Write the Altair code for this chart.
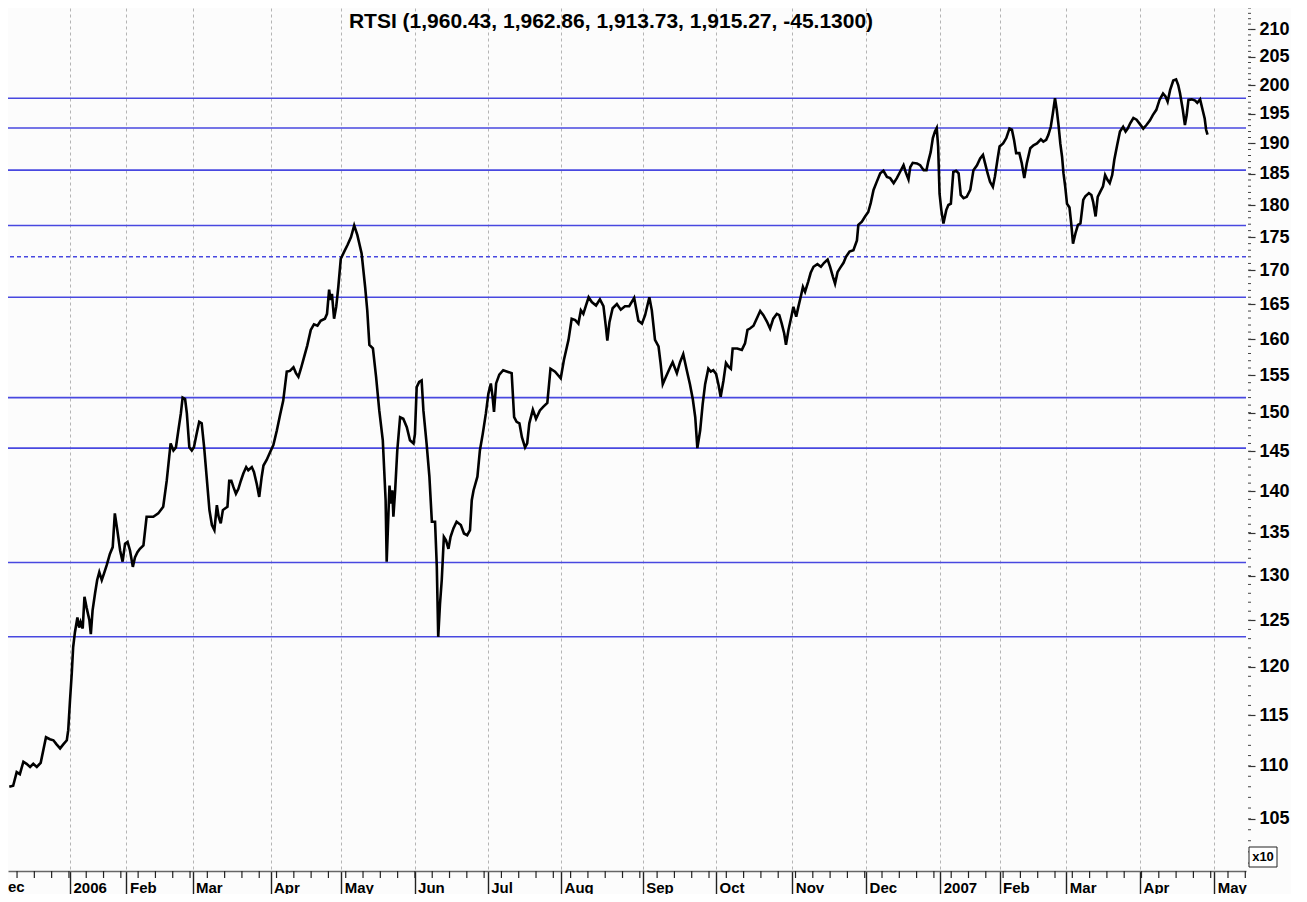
import json
import altair as alt
import numpy as np
import pandas as pd

TITLE = "RTSI (1,960.43, 1,962.86, 1,913.73, 1,915.27, -45.1300)"
FONT = "Liberation Sans, Arial, sans-serif"

# trading-session index (0 = first session of 2006) and RTSI close (x10)
day_a = [-17.2, -16.1, -15.1, -14.2, -13.2, -12.3, -11.3, -10.4, -9.4, -8.3, -6.8, -5.7, -4.7, -3.8, -2.8, -1.9,
         -0.9, -0.5, 0.0, 0.5, 0.9, 1.4, 2.1, 2.6, 3.0, 3.6, 4.1, 4.7, 5.5, 5.9, 6.4, 7.1, 7.7, 8.3, 9.0, 9.6,
         10.4, 11.3, 12.1, 12.7, 13.4, 14.2, 14.9, 15.6, 16.3, 17.0, 17.8, 18.4, 19.1, 19.8, 20.8, 21.7, 22.7,
         23.6, 25.0, 26.4, 27.4, 28.1, 28.5, 29.3, 30.0, 30.7, 31.4, 31.9, 32.6, 33.1, 33.8, 34.5, 35.1, 35.9,
         36.6, 37.3, 38.0, 38.7, 39.5, 40.2, 40.9, 41.6, 42.1, 42.7, 43.3, 43.9, 44.6, 45.1, 45.7, 46.3, 47.0,
         47.7, 48.4, 49.1, 49.9, 50.5]
close_a = [108.0, 108.1, 109.4, 109.2, 110.4, 110.2, 109.9, 110.2, 109.9, 110.3, 112.8, 112.6, 112.5, 112.1,
           111.7, 112.1, 112.5, 113.5, 116.5, 119.3, 122.1, 123.7, 125.3, 124.2, 124.8, 124.1, 127.6, 126.4,
           125.0, 123.5, 126.1, 128.0, 129.5, 130.4, 129.5, 130.2, 131.2, 132.5, 133.3, 137.3, 135.3, 132.9,
           131.6, 133.7, 133.9, 132.9, 131.0, 132.1, 132.7, 133.1, 133.5, 136.9, 136.9, 136.9, 137.3, 138.1,
           141.3, 144.3, 146.0, 145.1, 145.5, 147.7, 149.9, 152.0, 151.8, 149.9, 145.5, 145.1, 145.5, 147.3,
           148.8, 148.6, 145.5, 141.8, 137.7, 135.9, 135.3, 138.3, 136.9, 136.1, 137.7, 137.9, 138.1, 141.3,
           141.3, 140.5, 139.7, 140.3, 141.3, 142.2, 143.0, 142.6]

day_b = [51.5, 52.1, 52.9, 53.6, 54.3, 54.8, 55.7, 56.7, 57.6, 58.6, 59.5, 60.4, 61.4, 62.3, 63.3, 64.0, 64.7,
         65.4, 66.3, 67.2, 68.2, 69.1, 70.1, 71.0, 72.2, 72.8, 73.4, 73.8, 74.2, 74.8, 75.4, 76.0, 76.7, 77.6,
         78.6, 79.6, 80.5, 81.4, 82.6, 83.6, 84.2, 84.8, 85.8, 86.7, 87.6, 88.6, 89.0, 89.4, 89.7, 90.2, 90.5,
         90.9, 91.3, 91.6, 92.1, 92.7, 93.5, 94.4, 95.4, 96.3, 97.3, 97.7, 98.2, 98.9, 99.6, 100.1, 101.0,
         101.8, 102.5, 103.4, 103.9, 104.3, 104.8, 105.3, 105.9, 106.5, 107.2, 107.8, 108.6, 109.5, 110.7,
         111.6, 112.5, 113.3, 113.8, 114.3, 115.4, 116.1, 116.9, 117.8, 118.5, 119.2]
close_b = [143.0, 142.4, 140.9, 139.3, 141.8, 143.2, 143.9, 144.9, 145.8, 147.7, 149.7, 151.6, 155.5, 155.6,
           156.1, 155.3, 154.8, 155.9, 157.5, 159.1, 161.3, 162.1, 161.9, 162.6, 162.9, 163.6, 167.1, 165.6,
           166.5, 162.9, 164.6, 167.5, 171.7, 172.7, 173.8, 175.0, 176.8, 175.3, 172.5, 167.5, 164.1, 159.2,
           158.7, 154.8, 150.3, 146.4, 142.6, 138.9, 131.6, 137.3, 140.7, 138.5, 140.1, 136.9, 140.1, 145.1,
           149.4, 149.2, 148.1, 146.4, 146.0, 147.2, 153.4, 154.1, 154.3, 150.3, 146.0, 141.8, 136.3, 136.3,
           131.0, 123.2, 126.8, 129.5, 134.5, 134.1, 133.1, 134.5, 135.5, 136.3, 135.9, 134.9, 134.7, 135.3,
           138.9, 140.1, 141.8, 145.1, 147.2, 149.9, 152.5, 153.9]

day_c = [119.7, 120.1, 120.7, 121.6, 122.7, 123.9, 125.1, 125.8, 126.5, 127.3, 128.0, 128.9, 129.5, 130.1,
         131.1, 132.0, 133.1, 134.1, 135.2, 136.1, 137.4, 139.0, 139.9, 141.2, 142.1, 143.1, 144.0, 144.7,
         145.4, 146.2, 146.9, 147.8, 149.0, 150.1, 151.1, 151.8, 152.2, 152.8, 153.7, 154.9, 156.0, 157.2,
         158.4, 159.8, 161.0, 162.0, 162.9, 164.1, 164.8, 165.7, 166.7, 167.3, 167.9, 168.8, 170.0, 170.7,
         171.9, 172.8, 173.7, 174.7, 175.6, 176.4, 177.1, 177.7, 178.5, 179.2, 179.9, 180.8, 181.5, 182.2,
         183.0, 183.7, 184.3, 185.1, 185.8, 186.5, 187.2, 187.7, 189.0, 190.3, 191.2, 191.9, 192.6]
close_c = [152.1, 150.1, 153.9, 155.1, 155.7, 155.5, 155.3, 149.4, 148.8, 148.6, 146.8, 145.5, 146.0, 148.6,
           150.4, 149.2, 150.3, 150.8, 151.3, 155.9, 155.5, 154.6, 157.1, 159.9, 162.9, 162.7, 162.2, 164.1,
           163.6, 164.9, 166.0, 165.3, 164.8, 165.7, 164.7, 161.7, 159.8, 162.4, 164.4, 165.0, 164.2, 164.7,
           164.7, 165.9, 162.6, 162.2, 163.4, 166.0, 164.1, 159.9, 159.0, 156.6, 153.8, 154.8, 156.1, 156.8,
           155.3, 156.8, 157.9, 155.7, 153.8, 151.8, 149.4, 145.4, 147.7, 151.1, 153.8, 155.9, 155.5, 155.7,
           155.2, 153.7, 152.1, 154.3, 156.7, 156.2, 155.9, 158.7, 158.7, 158.5, 159.4, 161.3, 161.5]

day_d = [193.6, 194.5, 195.5, 196.4, 197.4, 198.3, 199.2, 200.2, 200.9, 201.6, 202.3, 202.8, 203.5, 204.2,
         204.9, 205.7, 206.3, 207.0, 207.6, 208.2, 209.1, 209.8, 210.6, 211.7, 212.7, 213.6, 214.6, 215.3,
         216.1, 216.7, 217.4, 218.1, 219.1, 219.8, 220.8, 221.9, 222.9, 223.3, 224.3, 225.2, 226.1, 226.8,
         227.6, 228.5, 229.5, 230.4, 231.4, 232.3, 233.3, 234.2, 235.1, 236.1, 236.7, 237.5, 238.0, 238.7,
         239.9, 240.8, 241.8, 242.6, 243.1, 243.8, 244.4, 245.0, 245.5, 245.9, 246.3, 246.8, 247.4, 248.2,
         248.8, 249.5, 250.2, 251.0, 251.7, 252.3, 253.1, 254.0, 255.0, 255.9, 256.9, 257.8, 258.6, 259.2,
         259.9, 260.6]
close_d = [161.9, 162.9, 164.0, 163.4, 162.5, 161.5, 162.9, 163.6, 163.4, 162.2, 160.8, 159.2, 161.3, 162.9,
           164.6, 163.2, 164.6, 166.1, 167.5, 166.8, 168.3, 169.6, 170.5, 170.9, 170.5, 171.1, 171.6, 170.5,
           169.0, 168.0, 169.7, 170.3, 171.1, 172.0, 172.8, 173.0, 174.5, 176.9, 177.4, 178.2, 178.9, 180.3,
           182.4, 183.7, 185.1, 185.5, 184.5, 184.3, 183.5, 184.3, 185.3, 186.4, 185.3, 184.1, 186.1, 186.8,
           186.7, 186.4, 185.6, 185.6, 187.0, 188.6, 190.9, 192.0, 192.6, 189.5, 181.8, 179.2, 177.1, 179.2,
           180.0, 180.2, 185.3, 185.5, 185.1, 181.6, 181.1, 181.3, 182.4, 185.6, 186.4, 187.5, 188.1, 186.7,
           185.1, 183.7]

day_e = [261.4, 262.0, 262.7, 263.3, 264.3, 265.2, 266.1, 266.8, 267.4, 268.0, 268.9, 269.6, 270.3, 271.0,
         272.0, 272.9, 273.9, 275.0, 275.7, 276.5, 277.1, 277.8, 278.4, 279.0, 279.5, 280.0, 280.5, 281.0,
         281.4, 281.9, 282.4, 283.1, 283.6, 284.1, 284.8, 285.5, 286.2, 287.0, 287.6, 288.6, 289.3, 289.8,
         290.5, 291.1, 291.8, 292.6, 293.2, 293.9, 294.5, 295.2, 295.8, 296.6, 297.4, 298.3, 299.0, 299.6,
         300.3, 301.2, 302.1, 303.0, 304.0, 304.9, 305.9, 306.7, 307.7, 308.6, 309.6, 310.3, 310.9, 311.6,
         312.5, 313.3, 313.9, 314.4, 315.2, 315.8, 316.3, 316.8, 317.7, 318.7, 319.3, 320.1, 320.8, 321.4,
         321.8, 322.2]
close_e = [182.9, 184.6, 187.3, 189.5, 190.0, 190.9, 192.5, 192.3, 190.6, 188.4, 188.4, 186.7, 184.3, 186.7,
           189.2, 189.7, 190.0, 190.7, 190.3, 190.6, 191.4, 192.8, 195.1, 197.7, 195.7, 193.1, 190.0, 187.8,
           185.1, 182.9, 180.2, 179.6, 177.1, 174.0, 175.6, 176.9, 177.1, 180.8, 181.4, 181.9, 181.6, 180.5,
           178.2, 181.3, 182.1, 183.0, 184.8, 184.0, 183.5, 184.8, 187.3, 189.7, 192.0, 192.8, 192.0, 192.5,
           193.4, 194.3, 194.0, 193.3, 192.5, 193.1, 193.9, 194.8, 195.7, 197.4, 198.5, 198.0, 197.1, 199.1,
           200.8, 201.0, 200.0, 198.6, 195.7, 193.1, 194.8, 197.4, 197.5, 197.3, 196.9, 197.5, 195.7, 194.2,
           192.3, 191.5]

month_labels = ["2006", "Feb", "Mar", "Apr", "May", "Jun", "Jul", "Aug", "Sep", "Oct", "Nov", "Dec",
                "2007", "Feb", "Mar", "Apr", "May"]
month_start = [0.0, 16.0, 34.7, 56.8, 76.8, 97.6, 118.3, 139.1, 162.2, 183.0, 204.6, 225.5,
               246.5, 263.3, 282.2, 303.1, 324.1]

support_levels = [197.7, 192.6, 185.6, 176.8, 166.0, 152.0, 145.4, 131.5, 123.2]
dashed_levels = [172.0]
y_tick_values = list(range(105, 215, 5))
y_minor_values = list(range(101, 215))

day = day_a + day_b + day_c + day_d + day_e
close = close_a + close_b + close_c + close_d + close_e
assert len(day) == len(close)

W, H = 1238, 863
PAD_RIGHT, PAD_BOTTOM = 45, 23
x_scale = alt.Scale(domain=[-17.56, 333.1], nice=False, zero=False)
y_scale = alt.Scale(type="log", domain=[100.3, 214.0], nice=False, zero=False)

df = pd.DataFrame({"i": list(range(len(day))), "day": day, "close": close})
week_ticks = [round(v, 2) for v in np.arange(-15.0, 333.0, 4.9)]

label_expr = f"{json.dumps(month_labels)}[indexof({json.dumps(month_start)}, datum.value)]"

x_axis = alt.Axis(
    orient="bottom", values=month_start, labelExpr=label_expr, title=None,
    grid=True, gridColor="#b4b4b4", gridDash=[3, 3], gridWidth=1,
    ticks=True, tickSize=23, tickColor="#222222", tickWidth=1.4,
    domain=True, domainColor="#666666", domainWidth=1.5,
    labelAlign="left", labelBaseline="middle", labelPadding=-7, labelOffset=3,
    labelFont=FONT, labelFontSize=15, labelFontWeight="bold", labelColor="black",
    labelOverlap=False, labelFlush=False, labelBound=False,
)
y_axis = alt.Axis(
    orient="right", values=y_tick_values, format="d", title=None,
    grid=False, domain=False, offset=2, tickSize=7, tickColor="#333333", tickWidth=1.2,
    labelPadding=4, labelFont=FONT, labelFontSize=18, labelFontWeight="bold",
    labelColor="black", labelOverlap=False, labelBaseline="middle",
)


def X(field):
    return alt.X(field, scale=x_scale, axis=x_axis, title=None)


def Y(field):
    return alt.Y(field, scale=y_scale, axis=y_axis, title=None)


levels = alt.Chart(pd.DataFrame({"level": support_levels})).mark_rule(
    color="#4848e0", strokeWidth=1.6
).encode(y=Y("level:Q"))

dashed = alt.Chart(pd.DataFrame({"level": dashed_levels})).mark_rule(
    color="#4848e0", strokeWidth=1.4, strokeDash=[4, 3]
).encode(y=Y("level:Q"))

line = alt.Chart(df).mark_line(color="black", strokeWidth=2.6).encode(
    x=X("day:Q"), y=Y("close:Q"), order="i:Q",
)

minor_y = alt.Chart(pd.DataFrame({"v": y_minor_values})).mark_rule(
    color="#444444", strokeWidth=1
).encode(y=Y("v:Q"), x=alt.value(W + 2), x2=alt.value(W + 5))

minor_x = alt.Chart(pd.DataFrame({"d": week_ticks})).mark_rule(
    color="#222222", strokeWidth=1.2
).encode(x=X("d:Q"), y=alt.value(H), y2=alt.value(H + 7))

title_txt = alt.Chart(pd.DataFrame({"t": [TITLE]})).mark_text(
    font=FONT, fontSize=21, fontWeight="bold", align="center", baseline="middle", color="black"
).encode(text="t:N", x=alt.value(603), y=alt.value(14))

ec_txt = alt.Chart(pd.DataFrame({"t": ["ec"]})).mark_text(
    font=FONT, fontSize=15, fontWeight="bold", align="left", baseline="middle", color="black"
).encode(text="t:N", x=alt.value(0), y=alt.value(H + 16))

box = alt.Chart(pd.DataFrame({"t": ["x10"]})).mark_rect(
    fill="white", stroke="#222222", strokeWidth=1
).encode(x=alt.value(W + 3), x2=alt.value(W + 31), y=alt.value(H - 24), y2=alt.value(H - 4))

box_txt = alt.Chart(pd.DataFrame({"t": ["x10"]})).mark_text(
    font=FONT, fontSize=13, fontWeight="bold", align="center", baseline="middle", color="black"
).encode(text="t:N", x=alt.value(W + 17), y=alt.value(H - 14))

chart = alt.layer(
    levels, dashed, line, minor_y, minor_x, title_txt, ec_txt, box, box_txt
).properties(
    width=W, height=H,
    autosize=alt.AutoSizeParams(type="none"),
    padding={"left": 0, "top": 0, "right": PAD_RIGHT, "bottom": PAD_BOTTOM},
    background="#fcfcfc",
).configure_view(strokeWidth=0)

chart.save("out.html", embed_options={"renderer": "svg", "actions": False})
